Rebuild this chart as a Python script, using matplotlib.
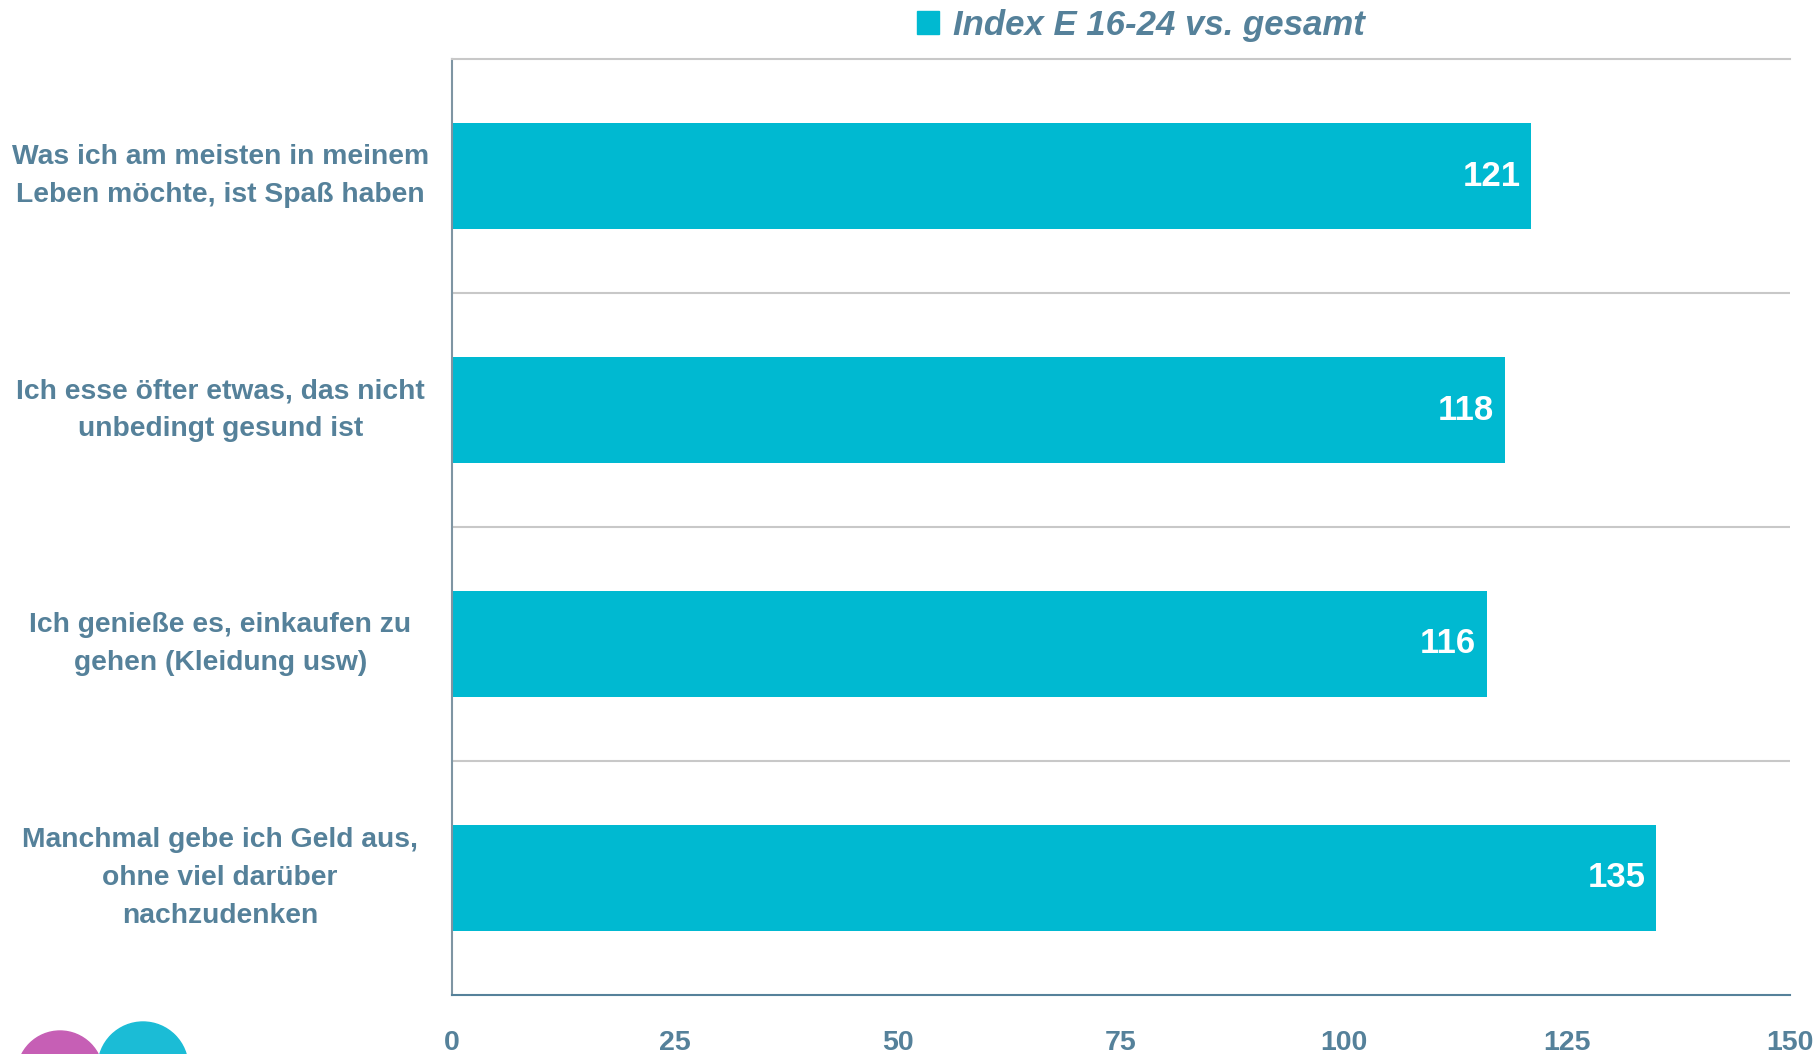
import matplotlib
matplotlib.use("Agg")
from matplotlib import pyplot as plt
from matplotlib.patches import Ellipse, Patch

# data
categories = ["Was ich am meisten in meinem\nLeben möchte, ist Spaß haben",
              "Ich esse öfter etwas, das nicht\nunbedingt gesund ist",
              "Ich genieße es, einkaufen zu\ngehen (Kleidung usw)",
              "Manchmal gebe ich Geld aus,\nohne viel darüber\nnachzudenken"]
values = [121, 118, 116, 135]
series_name = "Index E 16-24 vs. gesamt"
x_ticks = [0, 25, 50, 75, 100, 125, 150]

bar_color = "#00B9D1"
text_color = "#55819A"
grid_color = "#C8C8C8"

plt.rcParams['font.family'] = ['Liberation Sans', 'DejaVu Sans']

fig = plt.figure(figsize=(18.2, 10.54), dpi=100)
ax = fig.add_axes([0.2484, 0.056, 0.7351, 0.888])

y = list(range(len(categories)))
bars = ax.barh(y, values, height=0.45, color=bar_color)

ax.set_xlim(0, 150)
ax.set_ylim(len(categories) - 0.5, -0.5)

# value labels inside the bar ends
for b, v in zip(bars, values):
    ax.text(b.get_width() - 1.2, b.get_y() + b.get_height() / 2, str(v),
            ha="right", va="center", color="white", fontsize=25,
            fontweight="bold")

# category labels, centred multi-line text
ax.set_yticks(y)
ax.set_yticklabels(categories, fontsize=20.3, fontweight="bold",
                   color=text_color, ha="center", va="center",
                   linespacing=1.6)
ax.tick_params(axis="y", length=0, pad=167)

ax.set_xticks(x_ticks)
ax.set_xticklabels([str(t) for t in x_ticks], fontsize=20.5,
                   fontweight="bold", color=text_color)
ax.tick_params(axis="x", length=0, pad=25)

# separators between categories
ax.set_yticks([i + 0.5 for i in range(len(categories) - 1)], minor=True)
ax.tick_params(axis="y", which="minor", length=0)
ax.grid(True, axis="y", which="minor", color=grid_color, linewidth=1.5)
ax.set_axisbelow(True)

ax.spines["right"].set_visible(False)
ax.spines["top"].set_color(grid_color)
ax.spines["top"].set_linewidth(1.5)
ax.spines["left"].set_color("#7E95A3")
ax.spines["left"].set_linewidth(1.5)
ax.spines["bottom"].set_color(text_color)
ax.spines["bottom"].set_linewidth(1.5)

# legend above the plot
fig.legend(handles=[Patch(color=bar_color, label=series_name)],
           loc="center", bbox_to_anchor=(1141 / 1820, 1 - 25 / 1054),
           frameon=False, handlelength=0.65, handleheight=0.65,
           handletextpad=0.4, labelcolor=text_color,
           prop={"size": 25, "weight": "bold", "style": "italic"})

# logo fragment at the bottom left corner
fig.patches.append(Ellipse((60 / 1820, -20 / 1054), 86 / 1820, 86 / 1054,
                           transform=fig.transFigure, color="#C65FB5"))
fig.patches.append(Ellipse((143 / 1820, -13 / 1054), 90 / 1820, 90 / 1054,
                           transform=fig.transFigure, color="#1BBCD6"))

fig.savefig("out.png", dpi=100)
